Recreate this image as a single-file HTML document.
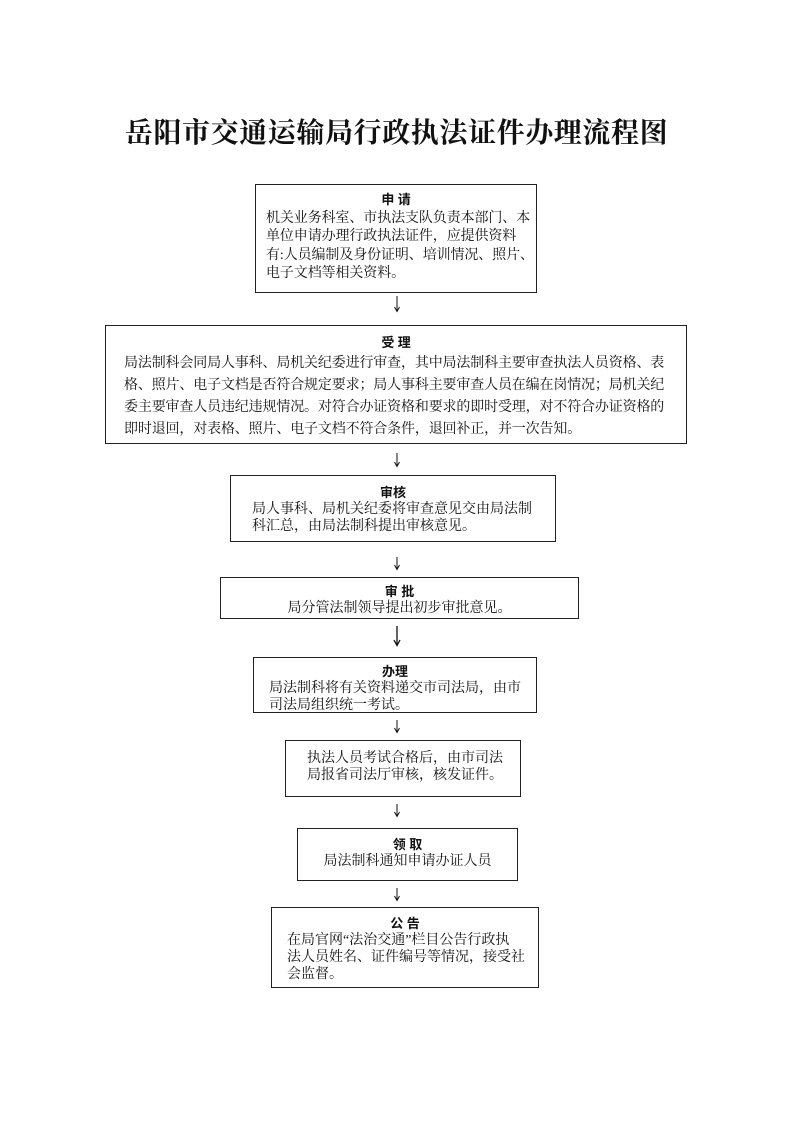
<!DOCTYPE html>
<html><head><meta charset="utf-8"><style>
body{margin:0;width:793px;height:1122px;background:#fff;position:relative;font-family:"Liberation Serif","Noto Serif CJK SC",serif;color:#111}
.t{position:absolute;top:111px;left:0;width:793px;text-align:center;font-size:28px;font-weight:bold;font-family:"Liberation Serif","Noto Serif CJK SC",serif;letter-spacing:0.6px}
.b{position:absolute;border:1.5px solid #222;box-sizing:border-box;font-size:14px;text-align:left}
.h{font-family:"Liberation Sans","Noto Sans CJK SC",sans-serif;font-weight:bold;text-align:center;font-size:13px}
svg.a{position:absolute;left:392px;width:10px;overflow:visible}
</style></head><body>
<div class="t">岳阳市交通运输局行政执法证件办理流程图</div>

<div class="b" style="left:255px;top:184px;width:282px;height:109px;padding:6px 0 0 10px;line-height:18.5px;letter-spacing:-0.1px">
<div class="h" style="margin-left:-10px">申 请</div>
机关业务科室、市执法支队负责本部门、本<br>单位申请办理行政执法证件，应提供资料<br>有:人员编制及身份证明、培训情况、照片、<br>电子文档等相关资料。</div>
<svg class="a" style="top:296px" height="16"><line x1="5" y1="0" x2="5" y2="15" stroke="#111" stroke-width="1"/><path d="M2.5 11 L5 15.5 L7.5 11" fill="none" stroke="#111" stroke-width="1"/></svg>

<div class="b" style="left:105px;top:325px;width:582px;height:119px;padding:7px 0 0 18px;line-height:22px;letter-spacing:-0.15px">
<div class="h" style="margin-left:-18px;line-height:20px">受 理</div>
局法制科会同局人事科、局机关纪委进行审查，其中局法制科主要审查执法人员资格、表<br>格、照片、电子文档是否符合规定要求；局人事科主要审查人员在编在岗情况；局机关纪<br>委主要审查人员违纪违规情况。对符合办证资格和要求的即时受理，对不符合办证资格的<br>即时退回，对表格、照片、电子文档不符合条件，退回补正，并一次告知。</div>
<svg class="a" style="top:453px" height="14"><line x1="5" y1="0" x2="5" y2="13" stroke="#111" stroke-width="1"/><path d="M2.5 9 L5 13.5 L7.5 9" fill="none" stroke="#111" stroke-width="1"/></svg>

<div class="b" style="left:230px;top:475px;width:326px;height:67px;padding:8px 0 0 21px;line-height:17px">
<div class="h" style="margin-left:-21px">审核</div>
局人事科、局机关纪委将审查意见交由局法制<br>科汇总，由局法制科提出审核意见。</div>
<svg class="a" style="top:557px" height="13"><line x1="5" y1="0" x2="5" y2="12" stroke="#111" stroke-width="1"/><path d="M2.5 8 L5 12.5 L7.5 8" fill="none" stroke="#111" stroke-width="1"/></svg>

<div class="b" style="left:220px;top:577px;width:359px;height:42px;padding:5px 0 0 0;line-height:17px;text-align:center">
<div class="h">审 批</div>
局分管法制领导提出初步审批意见。</div>
<svg class="a" style="top:626px" height="20"><line x1="5" y1="0" x2="5" y2="19" stroke="#111" stroke-width="1.3"/><path d="M2 14 L5 19.5 L8 14" fill="none" stroke="#111" stroke-width="1.3"/></svg>

<div class="b" style="left:253px;top:657px;width:284px;height:56px;padding:5px 0 0 15px;line-height:17px">
<div class="h" style="margin-left:-15px">办理</div>
局法制科将有关资料递交市司法局，由市<br>司法局组织统一考试。</div>
<svg class="a" style="top:720px" height="13"><line x1="5" y1="0" x2="5" y2="12" stroke="#111" stroke-width="1"/><path d="M2.5 8 L5 12.5 L7.5 8" fill="none" stroke="#111" stroke-width="1"/></svg>

<div class="b" style="left:285px;top:740px;width:236px;height:57px;padding:9px 0 0 21px;line-height:17px">
执法人员考试合格后，由市司法<br>局报省司法厅审核，核发证件。</div>
<svg class="a" style="top:804px" height="13"><line x1="5" y1="0" x2="5" y2="12" stroke="#111" stroke-width="1"/><path d="M2.5 8 L5 12.5 L7.5 8" fill="none" stroke="#111" stroke-width="1"/></svg>

<div class="b" style="left:297px;top:828px;width:221px;height:53px;padding:7px 0 0 0;line-height:17px;text-align:center">
<div class="h">领 取</div>
局法制科通知申请办证人员</div>
<svg class="a" style="top:888px" height="13"><line x1="5" y1="0" x2="5" y2="12" stroke="#111" stroke-width="1"/><path d="M2.5 8 L5 12.5 L7.5 8" fill="none" stroke="#111" stroke-width="1"/></svg>

<div class="b" style="left:271px;top:907px;width:268px;height:81px;padding:7px 0 0 15px;line-height:17px">
<div class="h" style="margin-left:-15px">公 告</div>
在局官网“法治交通”栏目公告行政执<br>法人员姓名、证件编号等情况，接受社<br>会监督。</div>
</body></html>
